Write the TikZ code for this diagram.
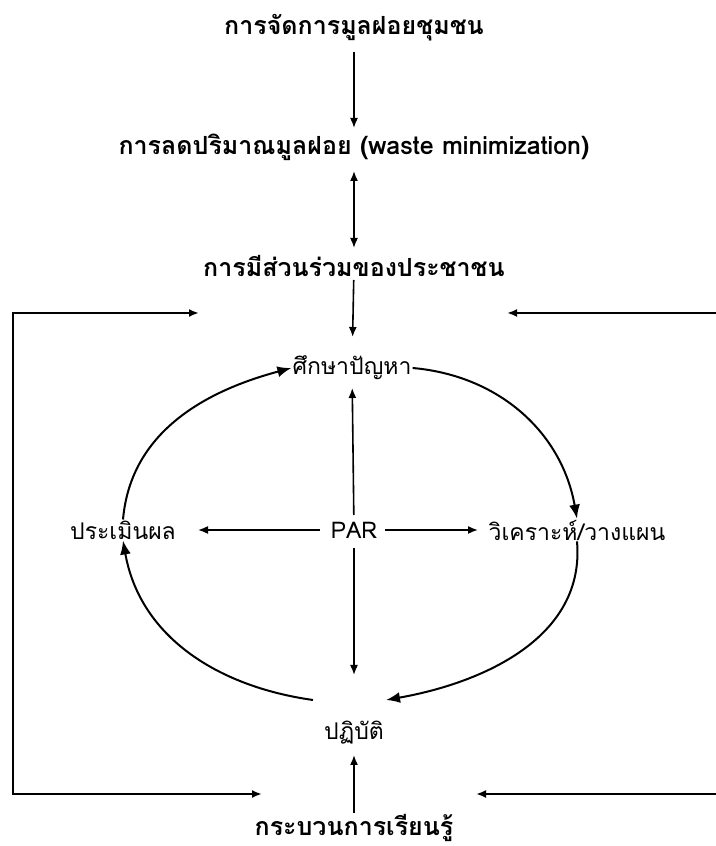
\documentclass[tikz,border=0pt]{standalone}
\usepackage{fontspec}
\newfontfamily\thaifont[Script=Thai]{Loma}
\usetikzlibrary{arrows.meta}
\usetikzlibrary{positioning}
\tikzset{every node/.style={font=\thaifont\fontsize{23}{27}\selectfont, inner sep=1pt}}
\tikzset{head/.style={font=\thaifont\bfseries\fontsize{25}{29}\selectfont}}
\tikzset{link/.style={-{Latex[length=10pt,width=8pt]}, line width=1.6pt}}
\tikzset{twoway/.style={{Latex[length=10pt,width=8pt]}-{Latex[length=10pt,width=8pt]}, line width=1.6pt}}
\tikzset{cycleflow/.style={-{Latex[length=14pt,width=11pt]}, line width=2pt}}
\tikzset{feedback/.style={line width=2.2pt, {Latex[length=10pt,width=8pt]}-{Latex[length=10pt,width=8pt]}}}
\tikzset{feedin/.style={line width=2.2pt, -{Latex[length=10pt,width=8pt]}}}

\begin{document}
\begin{tikzpicture}[x=1pt, y=1pt]
    \useasboundingbox (0,0) rectangle (715,846);
    \node[head] (waste) at (354,818) {การจัดการมูลฝอยชุมชน};
    \node[head] (minim) at (354,699) {การลดปริมาณมูลฝอย (waste minimization)};
    \node[head] (people) at (354,580) {การมีส่วนร่วมของประชาชน};
    \node (study) at (352,478) {ศึกษาปัญหา};
    \node (par) at (354,316) {PAR};
    \node (eval) at (123,316) {ประเมินผล};
    \node (plan) at (577,316) {วิเคราะห์/วางแผน};
    \node (act) at (354,113) {ปฏิบัติ};
    \node[head] (learn) at (354,18) {กระบวนการเรียนรู้};
    \coordinate (actL) at (313,146);
    \coordinate (actR) at (386,146);
    \coordinate (actT) at (354,171);
    \coordinate (lt) at (13,533);
    \coordinate (lb) at (13,52);
    \coordinate (ltip) at (199,533);
    \coordinate (lbtip) at (262,52);
    \coordinate (rt) at (716,533);
    \coordinate (rb) at (716,52);
    \coordinate (rtip) at (507,533);
    \coordinate (rbtip) at (476,52);
    % top chain
    \draw[link, shorten <=24pt, shorten >=19pt] (waste.center) -- (minim.center);
    \draw[twoway, shorten <=24pt, shorten >=18pt] (minim.center) -- (people.center);
    \draw[link, shorten <=14pt, shorten >=31pt] (people.center) -- (study.center);
    % PAR in the middle
    \draw[link, shorten <=15pt, shorten >=20pt] (par.center) -- (study.center);
    \draw[link, shorten <=34pt, shorten >=75pt] (par.center) -- (eval.center);
    \draw[link, shorten <=31pt, shorten >=99pt] (par.center) -- (plan.center);
    \draw[link, shorten <=18pt] (par.center) -- (actT);
    \draw[link, shorten <=15pt, shorten >=22pt] (learn.center) -- (act.center);
    % the cycle
    \draw[cycleflow] (eval.north) to[out=85, in=195] (study.west);
    \draw[cycleflow] (study.east) to[out=-5, in=100] (plan.north);
    \draw[cycleflow] (plan.south) to[out=-85, in=10] (actR);
    \draw[cycleflow] (actL) to[out=172, in=-80] (eval.south);
    % outer loop
    \draw[feedback] (ltip) -- (lt) -- (lb) -- (lbtip);
    \draw[feedin] (rt) -- (rtip);
    \draw[feedin] (rb) -- (rbtip);
\end{tikzpicture}
\end{document}
